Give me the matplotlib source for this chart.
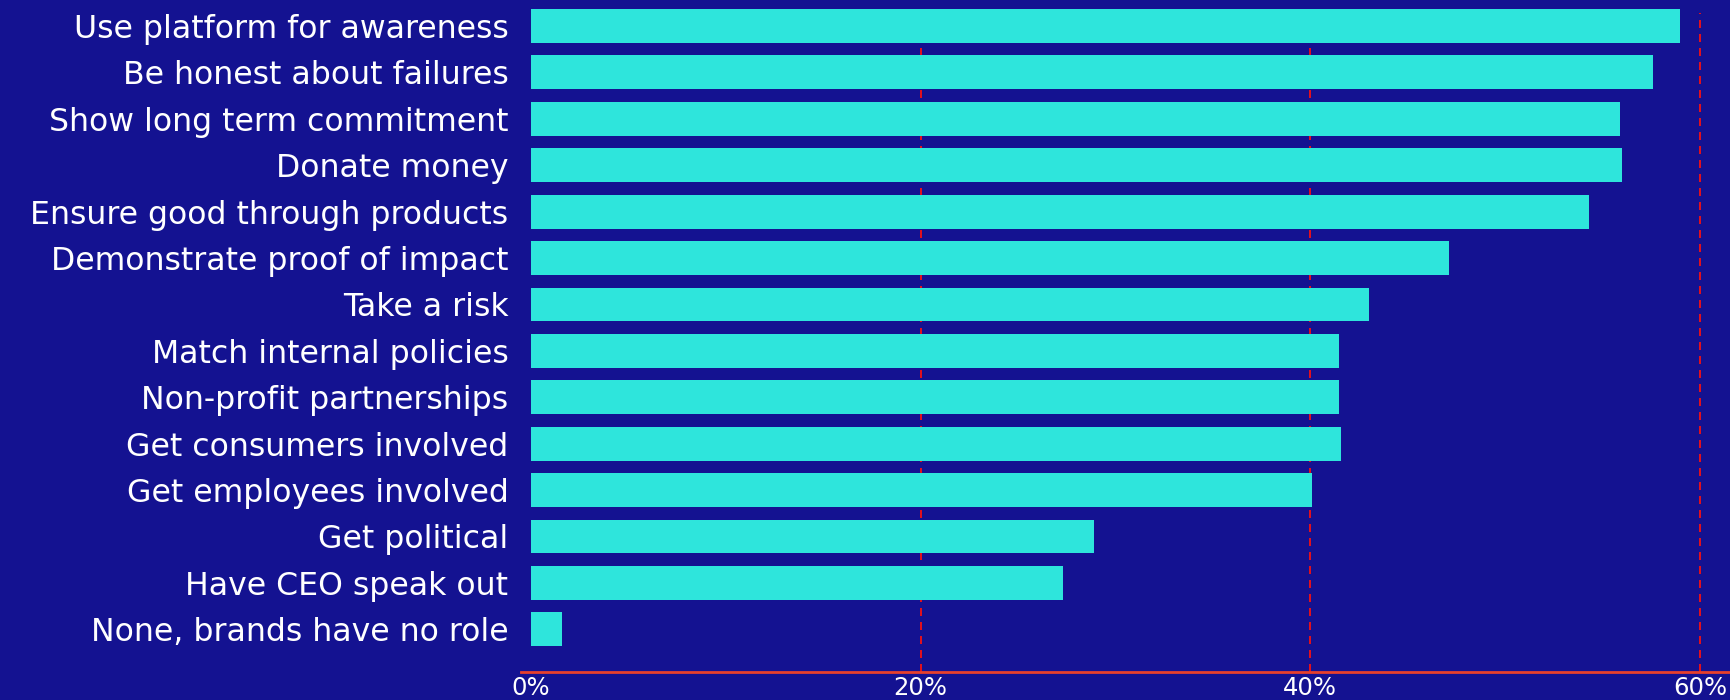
import matplotlib
matplotlib.use("Agg")
import matplotlib.pyplot as plt

# share of respondents per action brands should take
actions = [
    "Use platform for awareness",
    "Be honest about failures",
    "Show long term commitment",
    "Donate money",
    "Ensure good through products",
    "Demonstrate proof of impact",
    "Take a risk",
    "Match internal policies",
    "Non-profit partnerships",
    "Get consumers involved",
    "Get employees involved",
    "Get political",
    "Have CEO speak out",
    "None, brands have no role",
]
shares = [59.0, 57.6, 55.9, 56.0, 54.3, 47.1, 43.0, 41.5, 41.5, 41.6, 40.1, 28.9, 27.3, 1.6]
ticks = [0, 20, 40, 60]
tick_labels = ["0%", "20%", "40%", "60%"]

BG = "#141291"
BAR = "#2ee5dc"
GRID = "#e0101e"
AXIS = "#e8402c"

plt.rcParams["font.family"] = ["DejaVu Sans"]

fig = plt.figure(figsize=(17.31, 7.0), dpi=100, facecolor=BG)
ax = fig.add_axes([521 / 1731, 28 / 700, 1 - 521 / 1731, 672 / 700])
ax.set_facecolor(BG)

pos = list(range(len(actions)))
ax.barh(pos, shares, height=0.73, color=BAR, zorder=3)

ax.set_xlim(-0.51, 61.6)
ax.set_ylim(13.92, -0.56)

for t in ticks[1:]:
    ax.axvline(t, ymin=0, ymax=0.98, color=GRID, lw=1.44,
               linestyle=(0, (4, 3)), zorder=1)

ax.set_yticks(pos)
ax.set_yticklabels(actions, fontsize=22.7, color="white")
ax.set_xticks(ticks)
ax.set_xticklabels(tick_labels, fontsize=17.5, color="white")
ax.tick_params(axis="y", length=0, pad=9)
ax.tick_params(axis="x", length=0, pad=3)

for side in ["top", "right", "left"]:
    ax.spines[side].set_visible(False)
ax.spines["bottom"].set_color(AXIS)
ax.spines["bottom"].set_linewidth(2)

fig.savefig("out.png", dpi=100, facecolor=BG)
